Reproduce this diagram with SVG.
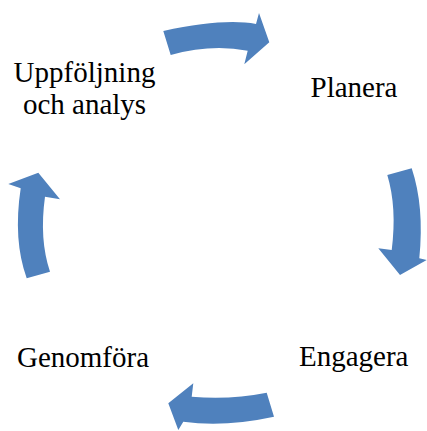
<svg xmlns="http://www.w3.org/2000/svg" width="427" height="431" viewBox="0 0 427 431">
<style>
.lbl{font-family:"Liberation Serif","Times New Roman",serif;font-size:29px;fill:#000}
.mid{text-anchor:middle}
.arr{fill:#4F81BD;stroke:none}
</style>
<rect width="427" height="431" fill="#fff"/>
<g id="connectors">
<path class="arr" d="M163.3,31 Q223.7,17.9 256,24 L259,13 L269.3,42.3 L244.3,64.3 L247.7,50.7 Q210.8,43.8 170.7,55 Z"/>
<path class="arr" d="M387.3,175 L411.7,168.3 Q424.5,206.7 419.3,258.3 L426.7,260 L400,275 L378.3,248.3 L391.7,250 Q397.1,207.5 387.3,175 Z"/>
<path class="arr" d="M266.7,392.7 Q230.8,399.9 191.7,396.7 L193.3,383.3 L168.3,403.3 L178.3,430 L183.3,421.7 Q224.8,427.4 274,416.7 Z"/>
<path class="arr" d="M26.7,278.3 Q12.9,240.1 20.7,188.3 L8.3,184 L38.3,172.7 L60,199.3 L45,196.7 Q39.1,239.2 50,271.7 Z"/>
</g>
<g id="node-uppfoljning">
<text class="lbl mid" x="84.5" y="82">Uppföljning</text>
<text class="lbl mid" x="84.5" y="113.5">och analys</text>
</g>
<g id="node-planera">
<text class="lbl" x="310.5" y="97">Planera</text>
</g>
<g id="node-engagera">
<text class="lbl" x="299" y="366">Engagera</text>
</g>
<g id="node-genomfora">
<text class="lbl" x="17" y="367">Genomföra</text>
</g>
</svg>
